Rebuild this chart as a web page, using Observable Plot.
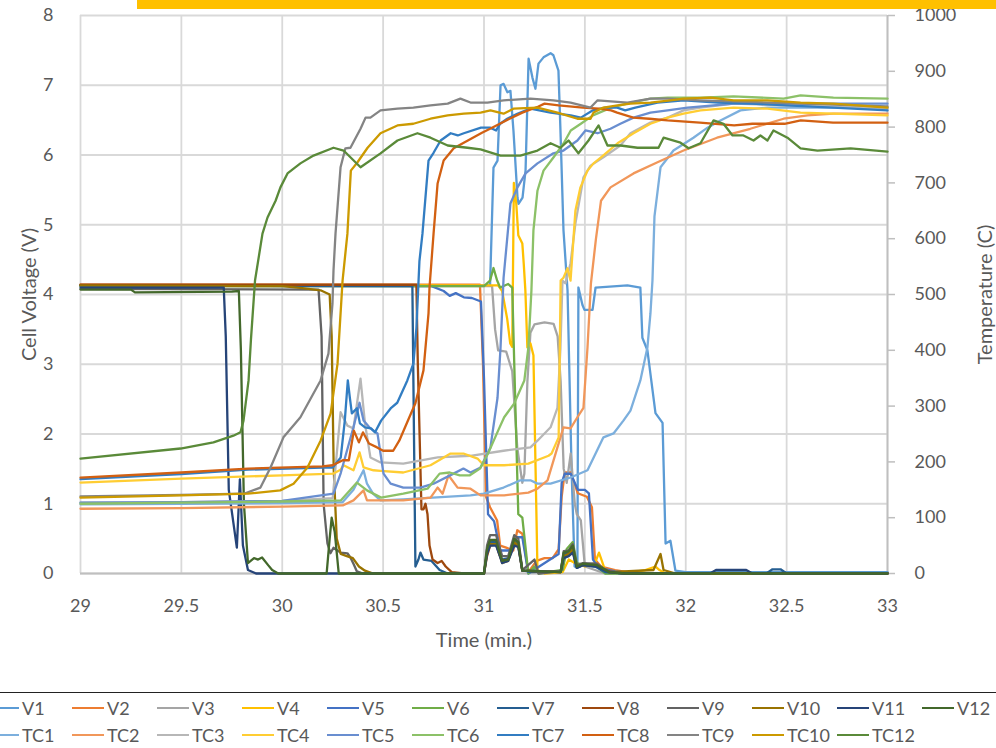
<!DOCTYPE html>
<html><head><meta charset="utf-8">
<script src="https://cdn.jsdelivr.net/npm/d3@7"></script>
<script src="https://cdn.jsdelivr.net/npm/@observablehq/plot@0.6"></script>
<style>
body{margin:0;background:#fff;width:996px;height:748px;overflow:hidden;position:relative;font-family:Lato,"Open Sans",sans-serif;}
#bar{position:absolute;left:137px;top:0;width:859px;height:9px;background:#FFC000;}
#chart{position:absolute;left:0;top:0;}
#legend{position:absolute;left:0;top:692px;width:996px;height:56px;border-top:1.5px solid #222;}
.sw{position:absolute;height:2.5px;width:32px;}
.lt{position:absolute;font-size:18px;color:#595959;line-height:20px;white-space:nowrap;}
</style></head>
<body>
<div id="chart"></div>
<div id="bar"></div>
<div id="legend"></div>
<script>
// ---- tick values ----
const xTicks = [29, 29.5, 30, 30.5, 31, 31.5, 32, 32.5, 33];
const vTicks = [0, 1, 2, 3, 4, 5, 6, 7, 8];
const tTicks = [0, 100, 200, 300, 400, 500, 600, 700, 800, 900, 1000];

// ---- cell voltages [time (min), V] ----
const V1 = [[29,4.13],[31.03,4.13],[31.047,5.82],[31.067,5.92],[31.082,7.0],[31.097,7.02],[31.116,6.9],[31.131,6.92],[31.146,6.35],[31.166,5.39],[31.171,5.3],[31.191,5.39],[31.206,5.78],[31.221,7.38],[31.24,7.11],[31.255,6.95],[31.27,7.31],[31.295,7.4],[31.33,7.46],[31.344,7.43],[31.369,7.21],[31.379,6.35],[31.394,4.92],[31.414,4.06],[31.434,1.5],[31.449,0.1],[31.463,0.1],[31.468,4.1],[31.488,3.85],[31.498,3.78],[31.538,3.78],[31.553,4.1],[31.711,4.13],[31.775,4.1],[31.785,3.38],[31.81,3.2],[31.85,2.3],[31.885,2.16],[31.9,0.43],[31.924,0.47],[31.949,0.04],[32.0,0.02],[33,0.02]];
const V2 = [[29,4.14],[30.98,4.14],[30.995,3.0],[31.01,1.1],[31.03,0.95],[31.065,0.76],[31.08,0.4],[31.11,0.37],[31.145,0.33],[31.165,0.62],[31.19,0.57],[31.22,0.02],[31.26,0.18],[31.3,0.22],[31.34,0.22],[31.37,0.35],[31.385,1.1],[31.4,1.45],[31.43,1.45],[31.465,1.15],[31.51,1.1],[31.535,0.95],[31.55,0.2],[31.58,0.1],[31.65,0.05],[31.75,0],[33,0]];
const V3 = [[29,4.12],[31.04,4.12],[31.055,3.5],[31.07,3.2],[31.11,3.18],[31.14,2.9],[31.165,1.8],[31.19,1.3],[31.2,1.43],[31.215,2.75],[31.23,3.45],[31.25,3.57],[31.3,3.6],[31.345,3.58],[31.365,3.4],[31.38,2.75],[31.395,1.5],[31.41,1.3],[31.43,1.72],[31.45,1.0],[31.46,0.85],[31.48,0.76],[31.5,0.1],[31.55,0.05],[31.6,0],[33,0]];
const V4 = [[29,4.13],[31.07,4.13],[31.09,4.05],[31.115,3.65],[31.13,3.3],[31.14,3.25],[31.148,5.6],[31.16,5.3],[31.17,4.85],[31.19,4.73],[31.197,4.44],[31.205,4.06],[31.215,3.24],[31.23,3.3],[31.245,3.13],[31.265,0.05],[31.3,0],[31.39,0.02],[31.42,0.2],[31.45,0.15],[31.5,0.1],[31.55,0.15],[31.57,0.3],[31.6,0.05],[31.7,0],[31.8,0.05],[31.85,0.1],[31.87,0.05],[31.9,0],[33,0]];
const V5 = [[29,4.13],[30.74,4.12],[30.8,4.05],[30.83,3.98],[30.86,4.02],[30.9,3.96],[30.94,3.95],[30.985,3.9],[31.0,2.8],[31.02,0.85],[31.05,0.75],[31.08,0.33],[31.13,0.33],[31.165,0.52],[31.19,0.52],[31.22,0],[31.37,0.28],[31.385,1.3],[31.4,1.43],[31.43,1.43],[31.465,1.2],[31.5,1.2],[31.52,1.15],[31.54,0.2],[31.57,0.08],[31.65,0.03],[31.75,0],[33,0]];
const V6 = [[29,4.12],[31.0,4.12],[31.03,4.2],[31.047,4.38],[31.065,4.2],[31.08,4.1],[31.12,4.15],[31.14,4.1],[31.15,3.0],[31.17,0.85],[31.19,0.8],[31.205,0.4],[31.22,0],[31.25,0.1],[31.27,0],[31.39,0.05],[31.41,0.35],[31.44,0.45],[31.46,0.15],[31.5,0.12],[31.56,0.1],[31.6,0],[33,0]];
const V7 = [[29,4.13],[30.645,4.12],[30.66,0.1],[30.675,0.2],[30.685,0.3],[30.7,0.2],[30.74,0.18],[30.78,0.05],[30.82,0],[31.0,0],[31.015,0.3],[31.03,0.45],[31.06,0.45],[31.075,0.3],[31.09,0.2],[31.12,0.22],[31.15,0.48],[31.17,0.42],[31.19,0.05],[31.23,0.02],[31.38,0.03],[31.395,0.28],[31.42,0.3],[31.44,0.38],[31.46,0.08],[31.49,0.12],[31.55,0.1],[31.6,0.02],[31.7,0],[32.4,0],[32.43,0.06],[32.47,0.06],[32.5,0],[33,0]];
const V8 = [[29,4.14],[30.665,4.14],[30.672,3.0],[30.69,0.92],[30.7,0.92],[30.71,1.0],[30.72,0.85],[30.73,0.4],[30.745,0.2],[30.77,0.15],[30.79,0.18],[30.81,0.1],[30.84,0.02],[30.9,0],[31.0,0],[31.015,0.25],[31.03,0.4],[31.06,0.42],[31.075,0.28],[31.09,0.18],[31.12,0.2],[31.15,0.42],[31.17,0.4],[31.19,0.04],[31.38,0.02],[31.395,0.25],[31.42,0.28],[31.44,0.32],[31.46,0.1],[31.49,0.14],[31.56,0.12],[31.62,0.03],[31.7,0],[33,0]];
const V9 = [[29,4.08],[30.18,4.07],[30.195,3.4],[30.205,1.0],[30.224,0.43],[30.239,0.29],[30.254,0.37],[30.289,0.3],[30.323,0.29],[30.338,0.23],[30.353,0.14],[30.37,0.03],[30.4,0],[31.0,0],[31.015,0.4],[31.03,0.55],[31.06,0.55],[31.075,0.4],[31.09,0.25],[31.12,0.25],[31.15,0.55],[31.17,0.5],[31.19,0.05],[31.25,0.2],[31.27,0],[31.38,0.03],[31.395,0.32],[31.42,0.33],[31.44,0.42],[31.46,0.12],[31.49,0.15],[31.56,0.14],[31.62,0.02],[31.7,0],[33,0]];
const V10 = [[29,4.13],[30.0,4.12],[30.1,4.09],[30.19,4.06],[30.235,4.0],[30.245,3.4],[30.255,1.5],[30.27,0.5],[30.29,0.28],[30.32,0.25],[30.35,0.22],[30.38,0.1],[30.41,0.04],[30.45,0],[31.0,0],[31.015,0.3],[31.03,0.42],[31.06,0.42],[31.075,0.3],[31.09,0.15],[31.12,0.18],[31.15,0.45],[31.17,0.4],[31.19,0.04],[31.38,0.02],[31.395,0.25],[31.42,0.28],[31.44,0.35],[31.46,0.1],[31.49,0.12],[31.56,0.12],[31.62,0.02],[31.84,0.05],[31.875,0.28],[31.89,0.05],[31.95,0],[33,0]];
const V11 = [[29,4.1],[29.71,4.1],[29.72,3.4],[29.735,1.2],[29.775,0.37],[29.79,1.35],[29.805,0.4],[29.83,0.05],[29.87,0],[31.0,0],[31.015,0.28],[31.03,0.4],[31.06,0.4],[31.075,0.28],[31.09,0.15],[31.12,0.18],[31.15,0.4],[31.17,0.38],[31.19,0.04],[31.38,0.02],[31.395,0.22],[31.42,0.25],[31.44,0.3],[31.46,0.08],[31.49,0.12],[31.56,0.1],[31.62,0.02],[31.7,0],[32.12,0],[32.15,0.05],[32.3,0.05],[32.33,0],[33,0]];
const V12 = [[29,4.07],[29.25,4.07],[29.27,4.03],[29.75,4.04],[29.785,4.05],[29.795,3.2],[29.81,1.0],[29.83,0.15],[29.86,0.22],[29.88,0.2],[29.9,0.23],[29.93,0.12],[29.95,0.05],[29.98,0],[30.22,0],[30.235,0.5],[30.245,0.8],[30.26,0.6],[30.28,0],[31.0,0],[31.015,0.35],[31.03,0.48],[31.06,0.48],[31.075,0.32],[31.09,0.18],[31.12,0.2],[31.15,0.5],[31.17,0.45],[31.19,0.04],[31.38,0.02],[31.395,0.3],[31.42,0.32],[31.44,0.4],[31.46,0.1],[31.49,0.14],[31.56,0.12],[31.62,0.02],[31.7,0],[33,0]];

// ---- thermocouples [time (min), °C] ----
const TC1 = [[29,124],[29.5,125],[30.0,126],[30.3,128],[30.353,150],[30.403,185],[30.42,161],[30.45,143],[30.487,131],[30.6,133],[30.933,140],[31.0,143],[31.097,154],[31.18,167],[31.23,167],[31.265,161],[31.33,161],[31.429,172],[31.513,185],[31.592,244],[31.642,251],[31.691,274],[31.726,292],[31.775,346],[31.81,405],[31.825,466],[31.835,525],[31.845,640],[31.875,728],[31.939,758],[32.038,781],[32.108,799],[32.172,812],[32.271,830],[32.405,835],[33,835]];
const TC2 = [[29,116],[29.5,117],[30.0,120],[30.3,122],[30.353,131],[30.403,149],[30.42,131],[30.6,131],[30.735,136],[30.77,154],[30.795,143],[30.824,176],[30.869,154],[30.933,152],[30.983,140],[31.1,140],[31.22,145],[31.265,152],[31.315,167],[31.364,226],[31.394,262],[31.429,260],[31.463,280],[31.493,297],[31.513,405],[31.53,520],[31.555,600],[31.58,668],[31.627,692],[31.741,717],[31.86,737],[31.989,758],[32.155,781],[32.32,797],[32.485,815],[32.604,821],[32.732,824],[33,824]];
const TC3 = [[29,127],[29.5,128],[30.0,130],[30.25,135],[30.289,289],[30.323,265],[30.353,260],[30.388,349],[30.41,269],[30.437,208],[30.487,199],[30.6,197],[30.77,208],[30.933,211],[31.097,220],[31.23,226],[31.265,238],[31.33,262],[31.364,297],[31.379,405],[31.389,525],[31.404,520],[31.429,556],[31.453,627],[31.493,710],[31.528,731],[31.592,746],[31.676,767],[31.726,789],[31.825,808],[31.91,817],[31.989,830],[32.073,835],[32.237,842],[33,833]];
const TC4 = [[29,163],[29.5,170],[30.0,176],[30.254,179],[30.289,186],[30.304,194],[30.353,185],[30.383,217],[30.403,190],[30.452,185],[30.487,184],[30.6,181],[30.735,194],[30.834,215],[30.898,215],[30.968,206],[30.998,194],[31.1,194],[31.22,197],[31.32,211],[31.335,215],[31.37,244],[31.38,525],[31.394,530],[31.414,547],[31.429,525],[31.453,650],[31.478,692],[31.513,722],[31.543,735],[31.577,745],[31.662,771],[31.741,789],[31.825,806],[31.91,817],[31.989,824],[32.073,830],[32.237,835],[32.405,833],[32.569,826],[32.732,824],[33,821]];
const TC5 = [[29,127],[29.5,128],[30.0,130],[30.254,143],[30.29,180],[30.353,262],[30.383,306],[30.403,274],[30.437,260],[30.472,251],[30.487,215],[30.502,179],[30.537,161],[30.6,154],[30.685,154],[30.75,161],[30.849,179],[30.898,188],[30.933,181],[30.983,190],[31.032,226],[31.067,315],[31.082,405],[31.097,530],[31.131,663],[31.166,692],[31.206,717],[31.265,735],[31.344,753],[31.394,758],[31.463,776],[31.503,794],[31.563,789],[31.627,797],[31.676,806],[31.741,817],[31.825,826],[31.91,830],[32.009,835],[32.237,842],[33,842]];
const TC6 = [[29,125],[29.5,127],[30.0,129],[30.29,131],[30.37,163],[30.42,149],[30.49,136],[30.6,143],[30.72,152],[30.78,179],[30.83,181],[30.88,176],[30.93,176],[30.98,188],[31.02,215],[31.07,256],[31.1,280],[31.15,305],[31.2,346],[31.22,405],[31.235,507],[31.245,615],[31.265,686],[31.295,722],[31.345,746],[31.395,771],[31.43,794],[31.48,806],[31.54,821],[31.63,835],[31.73,844],[31.825,851],[31.91,853],[32.073,853],[32.237,855],[32.485,851],[32.569,857],[32.732,853],[33,851]];
const TC7 = [[29,169],[29.5,178],[29.83,186],[30.2,190],[30.25,190],[30.29,208],[30.31,274],[30.325,346],[30.335,315],[30.345,287],[30.37,296],[30.385,269],[30.41,262],[30.44,260],[30.46,253],[30.49,274],[30.54,297],[30.57,306],[30.62,346],[30.65,376],[30.665,440],[30.68,560],[30.695,609],[30.725,740],[30.75,754],[30.785,776],[30.835,789],[30.87,785],[30.9,789],[30.985,799],[31.03,799],[31.06,794],[31.08,806],[31.115,815],[31.165,824],[31.23,833],[31.33,826],[31.43,821],[31.48,817],[31.54,830],[31.6,835],[31.66,835],[31.7,830],[31.75,835],[31.86,844],[31.99,848],[32.16,844],[32.33,842],[32.5,839],[32.73,835],[33,830]];
const TC8 = [[29,172],[29.5,181],[29.83,188],[30.2,192],[30.25,194],[30.3,203],[30.33,203],[30.355,256],[30.38,235],[30.4,253],[30.43,233],[30.47,226],[30.5,220],[30.55,220],[30.58,238],[30.63,280],[30.66,305],[30.7,364],[30.725,466],[30.73,513],[30.75,609],[30.77,699],[30.8,740],[30.85,762],[30.92,776],[30.99,790],[31.03,797],[31.11,812],[31.19,826],[31.27,837],[31.3,842],[31.37,839],[31.49,835],[31.57,833],[31.63,830],[31.66,826],[31.74,817],[31.82,815],[31.91,812],[32.07,808],[32.24,803],[32.33,806],[32.49,806],[32.57,812],[32.73,808],[33,808]];
const TC9 = [[29,138],[29.5,141],[29.81,143],[29.892,154],[29.942,190],[30.006,244],[30.09,280],[30.19,346],[30.229,394],[30.249,484],[30.254,543],[30.264,609],[30.289,728],[30.313,762],[30.338,763],[30.388,797],[30.413,817],[30.437,817],[30.487,830],[30.571,833],[30.65,835],[30.735,839],[30.82,842],[30.883,851],[30.933,844],[31.017,844],[31.097,848],[31.23,851],[31.344,848],[31.429,844],[31.528,835],[31.563,848],[31.711,844],[31.825,851],[31.91,851],[32.07,848],[32.57,842],[33,837]];
const TC10 = [[29,136],[29.5,140],[29.83,143],[29.99,149],[30.056,161],[30.125,190],[30.19,238],[30.24,287],[30.274,376],[30.299,525],[30.323,609],[30.34,722],[30.373,737],[30.423,763],[30.487,789],[30.571,803],[30.65,806],[30.735,815],[30.82,821],[30.9,824],[30.983,826],[31.032,830],[31.097,824],[31.146,833],[31.265,835],[31.364,826],[31.463,815],[31.528,815],[31.543,826],[31.592,835],[31.662,839],[31.726,842],[31.825,844],[31.924,848],[31.989,851],[32.123,853],[32.237,848],[32.405,848],[32.569,844],[32.732,842],[33,835]];
const TC12 = [[29,206],[29.496,224],[29.659,235],[29.758,247],[29.793,253],[29.808,274],[29.833,346],[29.845,420],[29.865,525],[29.902,609],[29.927,638],[29.967,668],[29.991,692],[30.026,717],[30.09,735],[30.155,749],[30.254,763],[30.304,758],[30.388,728],[30.487,753],[30.571,776],[30.67,789],[30.735,781],[30.82,767],[30.918,763],[30.983,760],[31.082,749],[31.18,749],[31.265,758],[31.33,771],[31.379,763],[31.419,776],[31.468,753],[31.518,776],[31.568,803],[31.612,767],[31.677,767],[31.761,763],[31.865,763],[31.89,781],[31.974,772],[32.014,762],[32.073,771],[32.138,812],[32.187,806],[32.232,785],[32.286,785],[32.336,776],[32.37,785],[32.405,776],[32.435,794],[32.504,781],[32.569,762],[32.653,758],[32.817,762],[33,756]];

const vNames = ["V1","V2","V3","V4","V5","V6","V7","V8","V9","V10","V11","V12"];
const vColors = ["#5B9BD5","#ED7D31","#A5A5A5","#FFC000","#4472C4","#70AD47","#255E91","#9E480E","#636363","#997300","#264478","#43682B"];
const vData = [V1,V2,V3,V4,V5,V6,V7,V8,V9,V10,V11,V12];
const tNames = ["TC1","TC2","TC3","TC4","TC5","TC6","TC7","TC8","TC9","TC10","TC12"];
const tColors = ["#7CAFDD","#F1975A","#B7B7B7","#FFCD33","#698ED0","#8CC168","#327DC2","#D26012","#848484","#CC9A00","#5A8A39"];
const tData = [TC1,TC2,TC3,TC4,TC5,TC6,TC7,TC8,TC9,TC10,TC12];

const K = 8 / 1000; // °C -> left-axis units (1000 °C aligns with 8 V)
const font = "Lato, 'Open Sans', sans-serif";

const lineMarks = [];
vData.forEach((d, i) => lineMarks.push(Plot.line(d, {x: p => p[0], y: p => p[1], stroke: vColors[i], strokeWidth: 2.3})));
tData.forEach((d, i) => lineMarks.push(Plot.line(d, {x: p => p[0], y: p => p[1] * K, stroke: tColors[i], strokeWidth: 2.3})));

const chart = Plot.plot({
  width: 996, height: 690,
  marginLeft: 80, marginRight: 109, marginTop: 15, marginBottom: 117,
  style: {fontFamily: font, fontSize: "18px", color: "#595959", background: "transparent", overflow: "visible"},
  x: {domain: [29, 33]},
  y: {domain: [0, 8]},
  marks: [
    Plot.gridX(xTicks, {stroke: "#d9d9d9", strokeOpacity: 1, strokeWidth: 1.8}),
    Plot.gridY(vTicks, {stroke: "#d9d9d9", strokeOpacity: 1, strokeWidth: 1.8}),
    Plot.ruleY([0], {stroke: "#bfbfbf", strokeWidth: 1.8}),
    Plot.ruleX([33], {stroke: "#bfbfbf", strokeWidth: 1.8}),
    Plot.axisX(xTicks, {tickSize: 0, tickPadding: 26, label: null, fill: "#595959", fontSize: 18, tickFormat: d => String(d)}),
    Plot.axisY(vTicks, {anchor: "left", tickSize: 0, tickPadding: 27, label: null, fill: "#595959", fontSize: 18, tickFormat: d => String(d)}),
    Plot.axisY(tTicks.map(t => t * K), {anchor: "right", tickSize: 7, tickPadding: 20, label: null, stroke: "#bfbfbf", strokeWidth: 1.5, fill: "#595959", fontSize: 18, tickFormat: d => String(Math.round(d / K))}),
    ...lineMarks,
    Plot.text(["Time (min.)"], {text: d => d, frameAnchor: "bottom", dy: 67, lineAnchor: "middle", textAnchor: "middle", fontSize: 20, fill: "#595959"}),
    Plot.text(["Cell Voltage (V)"], {text: d => d, frameAnchor: "left", dx: -51, rotate: -90, lineAnchor: "middle", textAnchor: "middle", fontSize: 20, fill: "#595959"}),
    Plot.text(["Temperature (C)"], {text: d => d, frameAnchor: "right", dx: 98, rotate: -90, lineAnchor: "middle", textAnchor: "middle", fontSize: 20, fill: "#595959"})
  ]
});
document.getElementById("chart").appendChild(chart);

// legend
const leg = document.getElementById("legend");
function addRow(names, colors, cy) {
  names.forEach((n, i) => {
    const left = -13 + 85 * i;
    const sw = document.createElement("div");
    sw.className = "sw"; sw.style.left = left + "px"; sw.style.top = (cy - 1.25) + "px"; sw.style.background = colors[i];
    const t = document.createElement("div");
    t.className = "lt"; t.style.left = (left + 35) + "px"; t.style.top = (cy - 10) + "px"; t.textContent = n;
    leg.appendChild(sw); leg.appendChild(t);
  });
}
addRow(vNames, vColors, 15);
addRow(tNames, tColors, 42);
</script>
</body></html>
